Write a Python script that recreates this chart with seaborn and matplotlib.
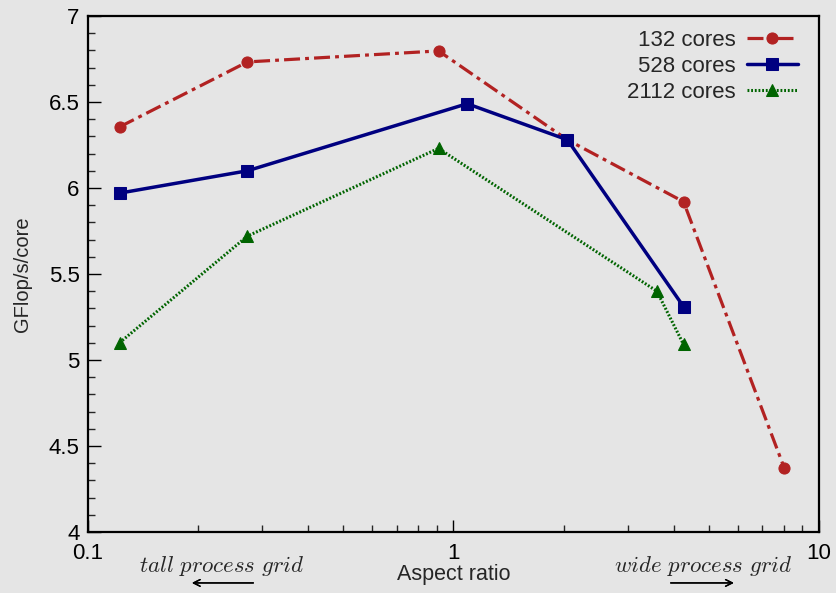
import numpy as np
import pandas as pd
import seaborn as sns
import matplotlib.pyplot as plt
from matplotlib.ticker import MultipleLocator, LogLocator, NullFormatter, FixedLocator

# values
ratio_132 = [0.122, 0.273, 0.91, 2.05, 4.26, 8.04]
perf_132 = [6.355, 6.733, 6.797, 6.28, 5.92, 4.37]
ratio_528 = [0.122, 0.273, 1.09, 2.05, 4.26]
perf_528 = [5.97, 6.10, 6.49, 6.28, 5.31]
ratio_2112 = [0.122, 0.273, 0.91, 3.6, 4.26]
perf_2112 = [5.10, 5.72, 6.23, 5.40, 5.09]

series = [
    ("132 cores", ratio_132, perf_132, "#b22222", "o", (0, (5, 1.6, 1.2, 1.6)), 2.3),
    ("528 cores", ratio_528, perf_528, "#000080", "s", "-", 2.5),
    ("2112 cores", ratio_2112, perf_2112, "#006400", "^", (0, (0.6, 0.6)), 2.2),
]

bg = "#e5e5e5"
sns.set_theme(style="ticks")
plt.rcParams["font.family"] = ["Liberation Sans", "DejaVu Sans"]
plt.rcParams["mathtext.fontset"] = "cm"

fig = plt.figure(figsize=(8.37, 5.93), dpi=100, facecolor=bg)
ax = fig.add_axes([0.1051, 0.103, 0.8734, 0.870])
ax.set_facecolor(bg)

for name, xs, ys, col, mk, ls, lw in series:
    df = pd.DataFrame({"x": xs, "y": ys})
    sns.lineplot(data=df, x="x", y="y", ax=ax, color=col, marker=mk,
                 linestyle=ls, linewidth=lw, markersize=8,
                 markeredgecolor=col, label=name, sort=False)

ax.set_xscale("log")
ax.set_xlim(0.1, 10)
ax.set_ylim(4, 7)
ax.yaxis.set_minor_locator(MultipleLocator(0.1))
ax.xaxis.set_major_locator(FixedLocator([0.1, 1, 10]))
ax.xaxis.set_minor_locator(LogLocator(base=10, subs=np.arange(2, 10)))
ax.xaxis.set_minor_formatter(NullFormatter())
ax.set_xticklabels(["0.1", "1", "10"])
ax.set_yticks([4, 4.5, 5, 5.5, 6, 6.5, 7])
ax.set_yticklabels(["4", "4.5", "5", "5.5", "6", "6.5", "7"])

ax.tick_params(which="major", direction="in", length=9, width=1, labelsize=16, pad=6, colors="black")
ax.tick_params(which="minor", direction="in", length=5, width=1)
ax.tick_params(axis="x", which="major", pad=8)
for s in ax.spines.values():
    s.set_color("black")
    s.set_linewidth(1.6)

ax.set_xlabel("Aspect ratio", fontsize=15.5, labelpad=0)
ax.set_ylabel("GFlop/s/core", fontsize=14.5, labelpad=12)

leg = ax.legend(loc="upper right", bbox_to_anchor=(0.971, 0.973), markerfirst=False,
                fontsize=16, frameon=False, borderaxespad=0, borderpad=0,
                handlelength=2.3, labelspacing=0.22, handletextpad=0.5)
for t in leg.get_texts():
    t.set_ha("right")

fig.text(0.265, 0.046, r"$tall\ process\ grid$", fontsize=16.5, ha="center", va="center")
fig.text(0.840, 0.046, r"$wide\ process\ grid$", fontsize=16.5, ha="center", va="center")
fig.add_artist(plt.annotate("", xy=(0.226, 0.017), xytext=(0.306, 0.017), xycoords="figure fraction",
                            arrowprops=dict(arrowstyle="->", lw=1, color="black")))
fig.add_artist(plt.annotate("", xy=(0.880, 0.017), xytext=(0.798, 0.017), xycoords="figure fraction",
                            arrowprops=dict(arrowstyle="->", lw=1, color="black")))

fig.savefig("out.png", dpi=100, facecolor=bg)
